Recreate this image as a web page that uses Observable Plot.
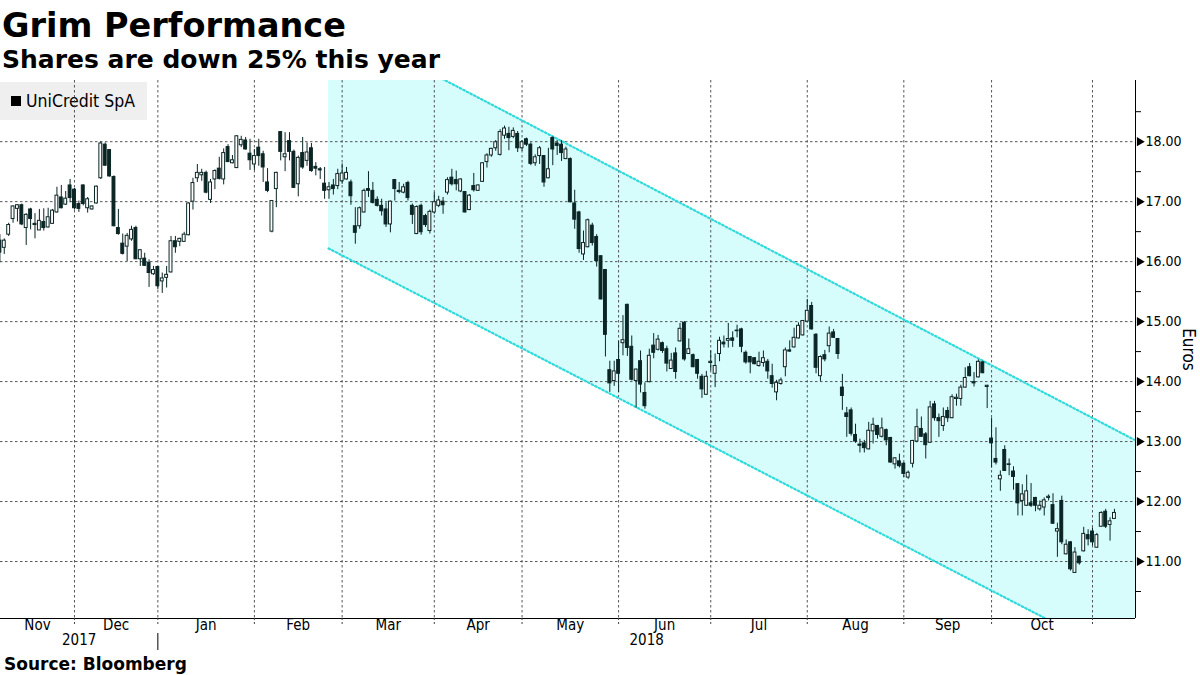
<!DOCTYPE html>
<html><head><meta charset="utf-8">
<script src="https://cdn.jsdelivr.net/npm/d3@7"></script>
<script src="https://cdn.jsdelivr.net/npm/@observablehq/plot@0.6"></script>
<style>
html,body{margin:0;padding:0;background:#fff;}
#wrap{position:relative;width:1200px;height:675px;overflow:hidden;font-family:"DejaVu Sans",sans-serif;color:#000;}
#title{position:absolute;left:2px;top:9px;font-size:33.5px;font-weight:bold;line-height:34px;white-space:nowrap;}
#subtitle{position:absolute;left:2px;top:47px;font-size:25px;font-weight:bold;line-height:25px;white-space:nowrap;}
#legend{position:absolute;left:0;top:82px;width:147px;height:38px;background:#efefef;z-index:0;}
#legend .sw{position:absolute;left:11px;top:14px;width:10px;height:10px;background:#000;}
#legend .lbl{position:absolute;left:26px;top:0;line-height:38px;font-size:17.5px;white-space:nowrap;font-family:"DejaVu Sans Condensed","DejaVu Sans",sans-serif;font-stretch:condensed;}
#chart{position:absolute;left:0;top:80px;z-index:1;}
#source{position:absolute;left:4px;top:656px;font-size:17px;font-weight:bold;line-height:17px;white-space:nowrap;}
</style></head>
<body>
<div id="wrap">
  <div id="title">Grim Performance</div>
  <div id="subtitle">Shares are down 25% this year</div>
  <div id="legend"><div class="sw"></div><div class="lbl">UniCredit SpA</div></div>
  <div id="chart"></div>
  <div id="source">Source: Bloomberg</div>
</div>
<script>
// ---- Data (UniCredit SpA daily candles, EUR) ----
const seriesName = "UniCredit SpA";
const firstDay = "2017-11-08";
const holidays = ["2017-12-25","2017-12-26","2018-01-01","2018-03-30","2018-04-02","2018-05-01","2018-08-15"];
const monthNames = ["Jan","Feb","Mar","Apr","May","Jun","Jul","Aug","Sep","Oct","Nov","Dec"];
const yTicks = [11,12,13,14,15,16,17,18];
const yMinorTicks = [10.5,11.5,12.5,13.5,14.5,15.5,16.5,17.5,18.5];

const open = [16.35,16.23,16.45,16.71,16.88,16.94,16.56,16.87,16.63,16.52,
16.66,16.57,16.63,16.82,17.07,16.95,17.27,17.20,16.96,17.27,
16.89,16.87,16.97,17.39,17.95,17.86,17.41,16.56,16.30,16.25,
16.37,16.56,16.04,16.05,15.98,15.79,15.91,15.67,15.73,15.82,
16.34,16.33,16.33,16.44,17.00,17.39,17.44,17.48,17.03,17.37,
17.55,17.37,17.91,17.64,17.56,17.94,18.02,17.80,17.62,17.90,
17.79,17.32,16.50,17.21,18.16,17.74,18.01,17.83,17.29,17.81,
17.68,17.89,17.58,17.54,17.30,17.19,17.27,17.26,17.34,17.37,
17.32,16.59,16.59,16.82,17.21,17.18,17.03,16.93,16.87,16.62,
17.36,17.18,17.15,17.31,16.93,16.46,16.93,16.76,16.51,16.82,
16.93,17.00,17.15,17.40,17.36,17.17,17.16,16.86,17.26,17.18,
17.33,17.66,17.77,17.89,17.78,18.10,18.13,18.08,18.13,17.89,
18.04,17.95,17.64,17.76,17.76,17.39,18.06,17.97,17.95,17.71,
17.71,16.97,16.82,16.12,16.24,16.60,16.41,16.09,15.86,14.19,
14.01,14.36,14.64,15.28,14.58,14.01,14.34,13.81,13.99,14.60,
14.53,14.64,14.54,14.21,14.47,14.67,14.98,14.46,14.44,14.36,
14.08,13.78,14.31,14.13,14.46,14.65,14.68,14.72,14.84,14.87,
14.48,14.41,14.39,14.26,14.31,14.33,14.09,13.82,13.96,14.24,
14.52,14.57,14.72,14.77,15.00,15.26,14.78,14.09,14.44,14.59,
14.82,14.71,13.90,13.47,13.52,13.11,12.95,12.97,12.87,13.17,
13.26,13.08,13.19,13.06,12.62,12.67,12.63,12.40,12.63,13.00,
13.21,13.12,12.98,13.62,13.39,13.26,13.51,13.39,13.71,13.71,
13.90,14.24,13.99,14.07,14.32,13.91,13.05,12.71,12.37,12.86,
12.62,12.50,12.29,12.01,11.93,11.97,12.06,11.87,11.90,12.06,
11.94,11.50,12.01,11.12,11.32,10.81,11.08,11.17,11.44,11.50,
11.23,11.58,11.83,11.61,11.71];

const high = [16.45,16.38,16.64,16.93,16.95,16.96,16.80,16.89,16.80,16.87,
16.88,16.89,16.87,17.24,17.27,17.17,17.37,17.22,17.01,17.28,
17.07,16.93,17.26,18.00,17.98,17.87,17.43,16.87,16.46,16.47,
16.59,16.59,16.20,16.14,16.03,15.92,15.92,15.81,15.92,16.42,
16.42,16.39,16.49,16.98,17.39,17.62,17.54,17.51,17.37,17.53,
17.74,17.88,17.95,17.77,18.10,18.09,18.07,18.04,17.87,18.04,
17.84,17.55,17.02,17.49,18.17,18.15,18.15,17.86,17.76,18.07,
17.98,17.97,17.65,17.57,17.57,17.32,17.37,17.54,17.63,17.57,
17.36,16.90,16.91,17.21,17.50,17.32,17.08,17.04,16.98,17.01,
17.37,17.32,17.29,17.34,16.96,16.93,16.96,16.79,16.86,17.15,
17.09,17.07,17.40,17.54,17.51,17.38,17.17,17.12,17.47,17.28,
17.65,17.80,17.89,18.02,18.20,18.26,18.24,18.23,18.17,18.02,
18.06,17.98,17.78,17.92,17.77,17.89,18.08,18.02,18.02,17.91,
17.73,17.19,16.84,16.51,16.71,16.64,16.45,16.10,15.87,14.34,
14.34,14.67,15.10,15.29,14.76,14.21,14.51,13.98,14.54,14.80,
14.77,14.66,14.59,14.47,14.56,14.97,15.00,14.71,14.46,14.37,
14.12,14.17,14.51,14.46,14.74,14.76,14.97,14.83,14.94,14.89,
14.51,14.42,14.40,14.49,14.51,14.37,14.29,14.02,14.06,14.56,
14.68,14.89,14.98,15.02,15.37,15.32,14.80,14.43,14.52,14.91,
14.87,14.72,14.12,13.57,13.56,13.29,13.04,13.02,13.32,13.39,
13.27,13.39,13.21,13.07,12.73,12.79,12.65,12.51,13.02,13.54,
13.41,13.15,13.67,13.67,13.46,13.56,13.57,13.78,13.79,13.94,
14.23,14.30,14.15,14.36,14.34,13.94,13.39,13.23,12.51,12.93,
12.71,12.58,12.30,12.28,12.44,12.30,12.07,12.01,12.06,12.11,
12.13,11.64,12.09,11.36,11.33,11.23,11.09,11.57,11.53,11.56,
11.47,11.83,11.87,11.73,11.87];

const low = [15.98,16.12,16.42,16.64,16.66,16.60,16.27,16.53,16.38,16.52,
16.51,16.56,16.63,16.81,16.88,16.94,16.98,16.86,16.82,16.93,
16.81,16.86,16.96,17.37,17.59,17.41,16.58,16.44,16.11,16.00,
16.34,16.03,15.92,15.92,15.57,15.77,15.53,15.47,15.56,15.81,
16.14,16.25,16.32,16.43,16.86,17.32,17.34,17.13,16.97,17.20,
17.36,17.28,17.65,17.63,17.55,17.90,17.86,17.52,17.52,17.59,
17.32,17.15,16.48,16.90,17.68,17.50,17.68,17.22,17.08,17.54,
17.59,17.49,17.43,17.37,17.04,17.04,17.11,17.20,17.29,17.36,
16.94,16.29,16.54,16.81,17.07,16.96,16.91,16.76,16.57,16.48,
17.01,17.13,17.13,17.01,16.62,16.45,16.44,16.57,16.46,16.79,
16.90,16.79,17.11,17.26,17.18,17.15,16.81,16.85,17.16,17.17,
17.32,17.56,17.74,17.84,17.76,18.04,17.85,18.05,17.82,17.84,
17.92,17.60,17.59,17.62,17.24,17.38,17.60,17.77,17.67,17.70,
16.98,16.54,16.14,16.02,16.23,16.26,15.91,15.36,14.41,13.82,
13.92,13.82,14.43,14.42,14.01,13.56,13.81,13.54,13.98,14.38,
14.51,14.47,14.16,14.20,14.04,14.66,14.34,14.45,14.23,14.04,
13.72,13.77,14.18,13.90,14.33,14.56,14.56,14.57,14.73,14.48,
14.29,14.13,14.28,14.24,14.24,14.04,13.89,13.68,13.94,14.08,
14.49,14.56,14.71,14.76,14.98,14.86,14.13,14.00,14.33,14.48,
14.72,14.37,13.52,13.07,13.09,12.97,12.81,12.81,12.86,12.96,
13.04,13.06,12.93,12.64,12.54,12.56,12.40,12.37,12.56,12.98,
13.07,12.71,12.97,13.34,13.07,13.17,13.32,13.38,13.59,13.59,
13.89,14.08,13.91,14.06,14.13,13.55,12.56,12.61,12.17,12.50,
12.43,12.19,11.76,11.76,11.92,11.90,11.83,11.84,11.76,12.01,
11.62,11.07,11.28,11.11,10.84,10.80,10.94,11.16,11.26,11.26,
11.22,11.57,11.55,11.34,11.70];

const close = [16.15,16.35,16.61,16.92,16.94,16.62,16.78,16.71,16.61,16.68,
16.56,16.74,16.85,17.10,16.89,17.05,17.06,16.89,16.88,16.96,
17.04,16.92,17.25,17.97,17.60,17.42,16.59,16.46,16.13,16.43,
16.53,16.04,16.19,15.93,15.81,15.86,15.59,15.72,15.78,16.34,
16.24,16.38,16.45,16.97,17.31,17.48,17.48,17.15,17.32,17.51,
17.38,17.81,17.66,17.69,18.09,18.03,17.87,17.69,17.76,17.76,
17.57,17.18,17.01,17.48,17.83,17.79,17.83,17.23,17.73,17.57,
17.82,17.51,17.55,17.52,17.18,17.24,17.21,17.46,17.47,17.48,
17.09,16.48,16.89,17.18,17.18,16.98,16.93,16.84,16.62,17.00,
17.21,17.16,17.24,17.06,16.78,16.91,16.49,16.61,16.83,16.99,
17.02,16.94,17.36,17.29,17.29,17.37,16.82,17.10,17.19,17.27,
17.64,17.77,17.88,17.99,18.16,18.22,18.06,18.18,17.89,17.99,
17.95,17.63,17.74,17.89,17.32,17.54,17.87,17.93,17.81,17.87,
16.99,16.70,16.21,16.31,16.69,16.31,16.01,15.37,14.78,13.97,
14.17,14.13,14.69,14.56,14.03,14.20,13.95,13.59,14.43,14.48,
14.70,14.51,14.30,14.35,14.16,14.88,14.37,14.54,14.24,14.13,
13.87,14.08,14.33,14.26,14.68,14.62,14.71,14.68,14.85,14.58,
14.32,14.32,14.29,14.33,14.39,14.17,13.96,13.98,14.02,14.52,
14.50,14.73,14.93,15.01,15.18,14.87,14.23,14.41,14.37,14.80,
14.73,14.46,13.76,13.41,13.13,13.00,12.93,12.89,13.18,13.28,
13.11,13.22,13.02,12.65,12.72,12.59,12.46,12.48,13.01,13.24,
13.08,12.94,13.57,13.39,13.34,13.41,13.39,13.74,13.73,13.90,
14.06,14.09,13.97,14.33,14.14,13.93,12.97,12.65,12.43,12.51,
12.61,12.41,11.97,12.12,12.17,11.93,11.93,11.93,12.02,12.08,
11.63,11.54,11.32,11.28,10.87,11.15,10.97,11.46,11.37,11.32,
11.44,11.81,11.58,11.67,11.81];

// Trend channel: [trading-day index, price] anchors
const channelStart = 74.9;
const upperAnchors = [[101.55, 19.02], [258.8, 13.02]];
const lowerAnchors = [[74.9, 16.22], [238.3, 10.05]];

// ---- Build ----
const n = open.length;
const hol = new Set(holidays);
const dates = [];
{
  const d = new Date(firstDay + "T00:00:00Z");
  while (dates.length < n) {
    const wd = d.getUTCDay();
    const s = d.toISOString().slice(0, 10);
    if (wd !== 0 && wd !== 6 && !hol.has(s)) dates.push(new Date(d));
    d.setUTCDate(d.getUTCDate() + 1);
  }
}
const candles = dates.map((date, i) => ({
  i, date, o: open[i], h: Math.max(high[i], open[i], close[i]),
  l: Math.min(low[i], open[i], close[i]), c: close[i]
}));

const xDomain = [0.14, n - 1 + 4.8];
const yDomain = [10.05, 19.02];

const monthStarts = candles.filter((d, k) => k > 0 && d.date.getUTCMonth() !== candles[k - 1].date.getUTCMonth());
const bounds = [xDomain[0], ...monthStarts.map(d => d.i), xDomain[1]];
const monthLabels = [];
for (let k = 0; k < bounds.length - 1; k++) {
  const a = bounds[k], b = bounds[k + 1];
  if (b - a < 10) continue;
  const m = k === 0 ? candles[0].date.getUTCMonth() : monthStarts[k - 1].date.getUTCMonth();
  monthLabels.push({x: (a + b) / 2, label: monthNames[m]});
}
const yearStart = monthStarts.find(d => d.date.getUTCMonth() === 0);
const yearLabels = [
  {x: (xDomain[0] + yearStart.i) / 2, label: String(candles[0].date.getUTCFullYear())},
  {x: (yearStart.i + xDomain[1]) / 2, label: String(yearStart.date.getUTCFullYear())}
];

function lineAt(anchors, x) {
  const [[x0, y0], [x1, y1]] = anchors;
  return y0 + (y1 - y0) * (x - x0) / (x1 - x0);
}
const channel = [channelStart, xDomain[1]].map(x => ({x, hi: lineAt(upperAnchors, x), lo: lineAt(lowerAnchors, x)}));

const dark = "#0b2525";
const cyanFill = "#d7fcfc";
const cyanLine = "#30dada";
const gridColor = "#444";
const condensed = "'DejaVu Sans Condensed','DejaVu Sans',sans-serif";

const chart = Plot.plot({
  width: 1200,
  height: 578,
  marginTop: 0,
  marginLeft: 0,
  marginRight: 65,
  marginBottom: 40,
  x: {type: "linear", domain: xDomain, label: null},
  y: {domain: yDomain, label: null},
  style: {background: "transparent", fontFamily: condensed, fontSize: "14px", color: "#000", fontStretch: "condensed"},
  marks: [
    Plot.areaY(channel, {x: "x", y1: "lo", y2: "hi", fill: cyanFill, clip: true}),
    Plot.gridY(yTicks, {stroke: gridColor, strokeOpacity: 0.9, strokeDasharray: "2.5,2.5"}),
    Plot.gridX(monthStarts.map(d => d.i), {stroke: gridColor, strokeOpacity: 0.9, strokeDasharray: "2.5,2.5"}),
    Plot.line(channel, {x: "x", y: "hi", stroke: cyanLine, strokeWidth: 2.2, strokeDasharray: "1.6,2.4", clip: true}),
    Plot.line(channel, {x: "x", y: "lo", stroke: cyanLine, strokeWidth: 2.2, strokeDasharray: "1.6,2.4", clip: true}),
    Plot.ruleX(candles, {x: "i", y1: "l", y2: "h", stroke: dark, strokeWidth: 1, clip: true}),
    Plot.rect(candles, {
      x1: d => d.i - 0.33, x2: d => d.i + 0.33, y1: "o", y2: "c",
      fill: d => d.c >= d.o ? "#ffffff" : dark, stroke: dark, strokeWidth: 1, clip: true
    }),
    Plot.ruleY([yDomain[0]], {stroke: "#000", strokeWidth: 1}),
    Plot.ruleX([xDomain[1]], {stroke: "#000", strokeWidth: 1}),
    Plot.axisY(yTicks, {anchor: "right", tickSize: 0, tickPadding: 10, tickFormat: d3.format(".2f"), label: null, fontSize: 14}),
    Plot.axisY(yMinorTicks, {anchor: "right", tickSize: 5, tickFormat: () => "", label: null}),
    Plot.dot(yTicks, {x: () => xDomain[1], y: d => d, symbol: "triangle", r: 3.4, rotate: 90, fill: "#000", stroke: "none", dx: 4}),
    Plot.axisX(monthStarts.map(d => d.i), {tickSize: 6, tickFormat: () => "", label: null, stroke: gridColor, strokeDasharray: "2,2"}),
    Plot.axisX([yearStart.i], {tickSize: 17, dy: 15, tickFormat: () => "", label: null, stroke: "#000"}),
    Plot.text(monthLabels, {x: "x", text: "label", frameAnchor: "bottom", dy: 11, fontSize: 15, fill: "#000"}),
    Plot.text(yearLabels, {x: "x", text: "label", frameAnchor: "bottom", dy: 26, fontSize: 15, fill: "#000"}),
    Plot.text(["Euros"], {frameAnchor: "right", dx: 53, rotate: 90, textAnchor: "middle", fontSize: 17, fill: "#000"})
  ]
});
document.getElementById("chart").appendChild(chart);
</script>
</body></html>
